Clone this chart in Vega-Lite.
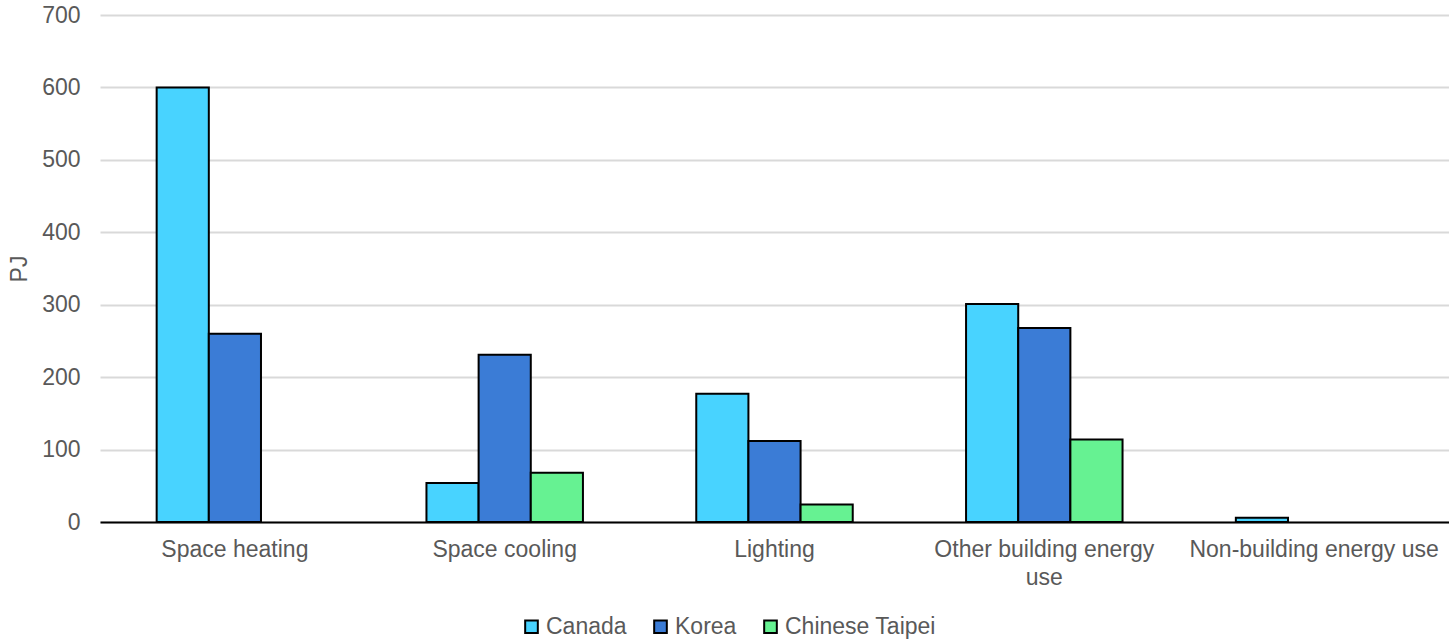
{
  "$schema": "https://vega.github.io/schema/vega-lite/v6.json",
  "autosize": {"type": "none"},
  "width": 1349,
  "height": 507,
  "padding": {"left": 100, "top": 15, "right": 0, "bottom": 119},
  "background": "white",
  "config": {
    "view": {"stroke": null},
    "font": "Liberation Sans"
  },
  "data": {
    "values": [
      {"use": "Space heating", "country": "Canada", "pj": 600},
      {"use": "Space heating", "country": "Korea", "pj": 260},
      {"use": "Space cooling", "country": "Canada", "pj": 54},
      {"use": "Space cooling", "country": "Korea", "pj": 231},
      {"use": "Space cooling", "country": "Chinese Taipei", "pj": 68},
      {"use": "Lighting", "country": "Canada", "pj": 177},
      {"use": "Lighting", "country": "Korea", "pj": 112},
      {"use": "Lighting", "country": "Chinese Taipei", "pj": 24},
      {"use": "Other building energy use", "country": "Canada", "pj": 301},
      {"use": "Other building energy use", "country": "Korea", "pj": 268},
      {"use": "Other building energy use", "country": "Chinese Taipei", "pj": 114},
      {"use": "Non-building energy use", "country": "Canada", "pj": 6}
    ]
  },
  "mark": {"type": "bar", "stroke": "black", "strokeWidth": 2},
  "encoding": {
    "x": {
      "field": "use",
      "type": "nominal",
      "sort": ["Space heating", "Space cooling", "Lighting", "Other building energy use", "Non-building energy use"],
      "scale": {"paddingInner": 0.42, "paddingOuter": 0.21},
      "axis": {
        "title": null,
        "labelAngle": 0,
        "labelFontSize": 23,
        "labelColor": "#595959",
        "labelPadding": 16,
        "labelLineHeight": 28,
        "labelLimit": 400,
        "ticks": false,
        "domainColor": "black",
        "domainWidth": 2,
        "labelExpr": "datum.value == 'Other building energy use' ? ['Other building energy', 'use'] : datum.value"
      }
    },
    "xOffset": {
      "field": "country",
      "type": "nominal",
      "sort": ["Canada", "Korea", "Chinese Taipei"],
      "scale": {"domain": ["Canada", "Korea", "Chinese Taipei"], "paddingInner": 0, "paddingOuter": 0}
    },
    "y": {
      "field": "pj",
      "type": "quantitative",
      "scale": {"domain": [0, 700], "nice": false},
      "axis": {
        "title": "PJ",
        "titleFontSize": 23,
        "titleFontWeight": "normal",
        "titleColor": "#595959",
        "titlePadding": 10,
        "values": [0, 100, 200, 300, 400, 500, 600, 700],
        "labelFontSize": 23,
        "labelColor": "#595959",
        "labelPadding": 20,
        "ticks": false,
        "domain": false,
        "gridColor": "#d9d9d9",
        "gridWidth": 2
      }
    },
    "color": {
      "field": "country",
      "type": "nominal",
      "sort": ["Canada", "Korea", "Chinese Taipei"],
      "scale": {"domain": ["Canada", "Korea", "Chinese Taipei"], "range": ["#48d3ff", "#3b7cd6", "#66f292"]},
      "legend": {
        "title": null,
        "orient": "none",
        "legendX": 420,
        "legendY": 600,
        "direction": "horizontal",
        "symbolType": "square",
        "symbolSize": 160,
        "symbolStrokeColor": "black",
        "symbolStrokeWidth": 2,
        "labelFontSize": 23,
        "labelColor": "#595959",
        "labelOffset": 3,
        "columnPadding": 22
      }
    }
  }
}
